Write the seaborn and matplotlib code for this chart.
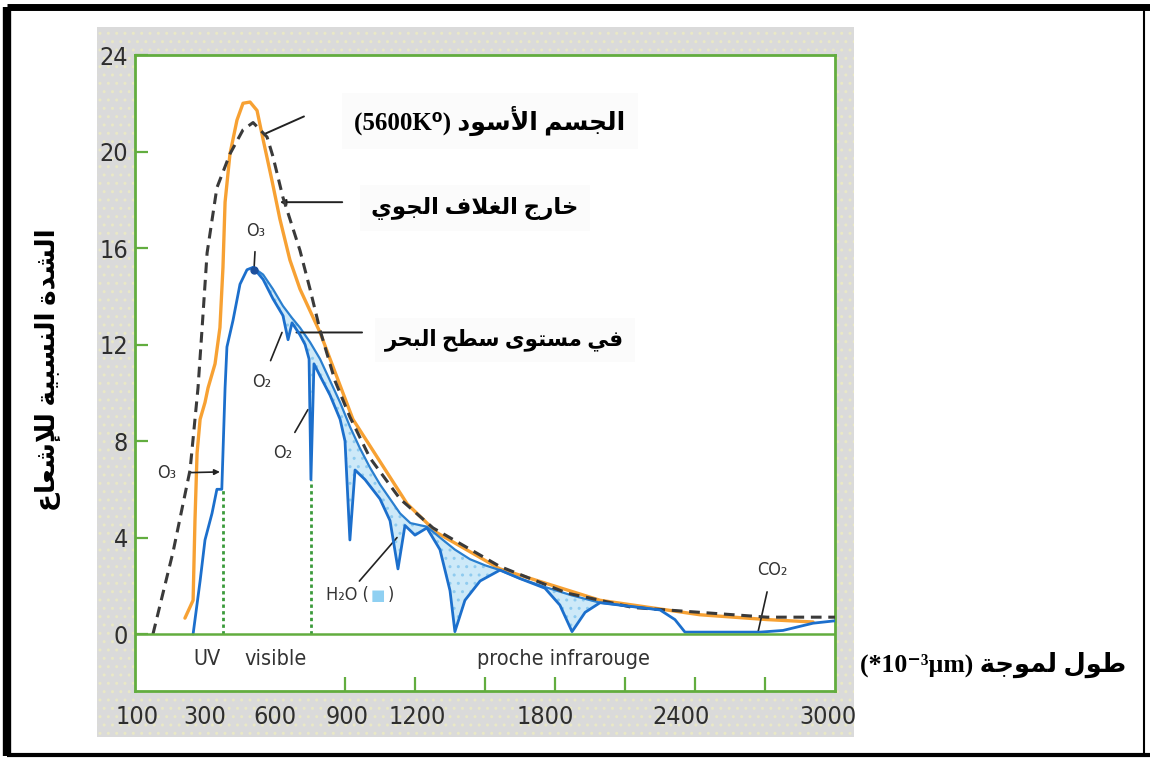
import numpy as np
import pandas as pd
import matplotlib
matplotlib.use("Agg")
import matplotlib.pyplot as plt
import seaborn as sns
from matplotlib.patches import Rectangle
from matplotlib.lines import Line2D

# ---------------- data (wavelength in nm, relative intensity) ----------------
bb_x = [77, 163, 236, 270, 287, 309, 351, 407, 463, 506, 566, 591, 634, 664, 707,
        750, 793, 857, 921, 1007, 1136, 1277, 1564, 1851, 2134, 2421, 2709, 3000]
bb_y = [0.0, 3.4, 6.8, 10.2, 12.6, 15.8, 18.5, 19.9, 20.9, 21.2, 20.6, 19.8, 18.1, 17.2, 15.9,
        14.3, 12.6, 10.5, 9.0, 7.3, 5.6, 4.4, 2.8, 1.7, 1.1, 0.9, 0.7, 0.7]

out_x = [214, 249, 257, 266, 279, 300, 313, 343, 364, 377, 386, 407, 437, 463, 493,
         523, 549, 587, 621, 664, 707, 793, 934, 1166, 1294, 1564, 1993, 2421, 2709, 2906]
out_y = [0.66, 1.4, 4.7, 7.5, 8.9, 9.6, 10.2, 11.2, 12.7, 15.2, 17.9, 19.9, 21.3, 22.0, 22.05,
         21.7, 20.5, 18.8, 17.2, 15.5, 14.3, 12.5, 8.9, 5.4, 4.2, 2.7, 1.4, 0.8, 0.6, 0.5]

sea_x = [249, 279, 300, 330, 351, 372, 377, 386, 394, 420, 450, 480, 506, 549, 591,
         634, 656, 673, 707, 729, 746, 754, 767, 793, 836, 879, 900, 921, 943, 986,
         1050, 1093, 1127, 1157, 1200, 1251, 1307, 1350, 1371, 1414, 1479, 1564, 1650,
         1757, 1821, 1873, 1929, 1993, 2121, 2250, 2314, 2357, 2679, 2777, 2906, 3000]
sea_y = [0.0, 2.2, 3.9, 5.0, 6.0, 6.0, 7.5, 10.2, 11.9, 13.0, 14.5, 15.1, 15.2, 14.7, 13.9,
         13.2, 12.2, 12.9, 12.4, 12.0, 11.4, 6.4, 11.2, 10.7, 9.9, 8.9, 8.0, 3.9, 6.8, 6.4,
         5.6, 4.7, 2.7, 4.5, 4.1, 4.4, 3.5, 1.8, 0.1, 1.4, 2.2, 2.65, 2.3,
         1.9, 1.2, 0.1, 0.9, 1.3, 1.15, 1.0, 0.6, 0.08, 0.08, 0.15, 0.45, 0.55]

env_x = [506, 549, 591, 634, 673, 707, 750, 793, 836, 879, 921, 964, 1007, 1050, 1093,
         1136, 1180, 1251, 1307, 1371, 1436, 1500, 1564, 1650, 1757, 1873, 1993, 2121, 2250]
env_y = [15.2, 14.9, 14.3, 13.6, 13.1, 12.7, 12.1, 11.4, 10.5, 9.6, 8.6, 7.7, 6.9, 6.2, 5.6,
         5.0, 4.6, 4.45, 4.0, 3.5, 3.1, 2.85, 2.65, 2.3, 1.95, 1.6, 1.3, 1.15, 1.0]

ytick_vals = [0, 4, 8, 12, 16, 20, 24]
xtick_marks = [300, 600, 900, 1200, 1500, 1800, 2100, 2400, 2700]
xtick_labels = ["100", "300", "600", "900", "1200", "1800", "2400", "3000"]
xtick_label_pos = [10, 300, 600, 910, 1210, 1760, 2340, 2970]

uv_limit = (377, 6.0)
o2_line = (754, 6.4)

# ---------------- Arabic shaping (presentation forms, visual order) ----------------
FORMS = {
    "\u0627": ("\uFE8D", "\uFE8E", None, None),
    "\u0623": ("\uFE83", "\uFE84", None, None),
    "\u0625": ("\uFE87", "\uFE88", None, None),
    "\u0628": ("\uFE8F", "\uFE90", "\uFE91", "\uFE92"),
    "\u0629": ("\uFE93", "\uFE94", None, None),
    "\u062A": ("\uFE95", "\uFE96", "\uFE97", "\uFE98"),
    "\u062C": ("\uFE9D", "\uFE9E", "\uFE9F", "\uFEA0"),
    "\u062D": ("\uFEA1", "\uFEA2", "\uFEA3", "\uFEA4"),
    "\u062E": ("\uFEA5", "\uFEA6", "\uFEA7", "\uFEA8"),
    "\u062F": ("\uFEA9", "\uFEAA", None, None),
    "\u0631": ("\uFEAD", "\uFEAE", None, None),
    "\u0633": ("\uFEB1", "\uFEB2", "\uFEB3", "\uFEB4"),
    "\u0634": ("\uFEB5", "\uFEB6", "\uFEB7", "\uFEB8"),
    "\u0637": ("\uFEC1", "\uFEC2", "\uFEC3", "\uFEC4"),
    "\u0639": ("\uFEC9", "\uFECA", "\uFECB", "\uFECC"),
    "\u063A": ("\uFECD", "\uFECE", "\uFECF", "\uFED0"),
    "\u0641": ("\uFED1", "\uFED2", "\uFED3", "\uFED4"),
    "\u0644": ("\uFEDD", "\uFEDE", "\uFEDF", "\uFEE0"),
    "\u0645": ("\uFEE1", "\uFEE2", "\uFEE3", "\uFEE4"),
    "\u0646": ("\uFEE5", "\uFEE6", "\uFEE7", "\uFEE8"),
    "\u0648": ("\uFEED", "\uFEEE", None, None),
    "\u0649": ("\uFEEF", "\uFEF0", None, None),
    "\u064A": ("\uFEF1", "\uFEF2", "\uFEF3", "\uFEF4"),
}
LAM_ALEF = {"\u0627": ("\uFEFB", "\uFEFC"), "\u0623": ("\uFEF7", "\uFEF8"),
            "\u0625": ("\uFEF9", "\uFEFA")}


def shape(text):
    toks, i = [], 0
    while i < len(text):
        c = text[i]
        if c == "\u0644" and i + 1 < len(text) and text[i + 1] in LAM_ALEF:
            toks.append(("LA", text[i + 1]))
            i += 2
        else:
            toks.append(c)
            i += 1

    def is_ar(t):
        return isinstance(t, tuple) or t in FORMS

    def joins_fwd(t):
        return (not isinstance(t, tuple)) and t in FORMS and FORMS[t][2] is not None

    out = []
    for k, t in enumerate(toks):
        prev = toks[k - 1] if k > 0 else None
        nxt = toks[k + 1] if k + 1 < len(toks) else None
        jp = prev is not None and joins_fwd(prev) and is_ar(t)
        if isinstance(t, tuple):
            out.append(LAM_ALEF[t[1]][1 if jp else 0])
            continue
        if t not in FORMS:
            out.append(t)
            continue
        iso, fin, ini, med = FORMS[t]
        jn = ini is not None and nxt is not None and is_ar(nxt)
        out.append(med if (jp and jn) else fin if jp else ini if jn else iso)
    return "".join(reversed(out))


lbl_bb = "(5600K\u2070) " + shape("الجسم الأسود")
lbl_out = shape("خارج الغلاف الجوي")
lbl_sea = shape("في مستوى سطح البحر")
lbl_y = shape("الشدة النسبية للإشعاع")
lbl_x = "(*10\u207B\u00B3\u00B5m) " + shape("طول لموجة")

# ---------------- style ----------------
sns.set_theme(style="white")
plt.rcParams["font.family"] = ["DejaVu Sans"]
plt.rcParams["hatch.linewidth"] = 1.0
NARROW = ["DejaVu Sans"]
NARROW_KW = dict(family=NARROW, fontstretch="condensed")
GREEN = "#62ad3f"
W, H = 1150, 758

fig = plt.figure(figsize=(W / 100, H / 100), dpi=100)
fig.patch.set_facecolor("white")


def fx(px):
    return px / W


def fy(py):
    return 1 - py / H


# grey dotted panel
fig.patches.append(Rectangle((fx(97), fy(737)), (854 - 97) / W, (737 - 27) / H,
                             transform=fig.transFigure, facecolor="#dadada",
                             edgecolor="#e9e8c6", hatch="..", lw=0, zorder=-5))
# black frame lines
for (x0, y0, x1, y1, lw) in [(7, 7, 1150, 7, 5), (7, 7, 7, 756, 6),
                             (7, 755, 1150, 755, 3), (1144, 7, 1144, 755, 1.5)]:
    fig.add_artist(Line2D([fx(x0), fx(x1)], [fy(y0), fy(y1)], transform=fig.transFigure,
                          color="black", lw=lw, solid_capstyle="butt"))

ax = fig.add_axes([fx(135), fy(691), 700 / W, (691 - 55) / H])
ax.set_facecolor("white")

# absorption shading
poly_x = list(env_x) + [x for x in sea_x if env_x[0] <= x <= env_x[-1]][::-1]
poly_y = list(env_y) + [y for x, y in zip(sea_x, sea_y) if env_x[0] <= x <= env_x[-1]][::-1]
ax.fill(poly_x, poly_y, facecolor="#cde9f8", edgecolor="#8fcbef", hatch="..", lw=0, zorder=1)

sns.lineplot(x=bb_x, y=bb_y, ax=ax, color="#3a3a3a", lw=2.2, linestyle=(0, (3.5, 2.2)),
             estimator=None, sort=False, zorder=4)
sns.lineplot(x=out_x, y=out_y, ax=ax, color="#f7a133", lw=2.4, estimator=None, sort=False, zorder=3)
sns.lineplot(x=env_x, y=env_y, ax=ax, color="#2a7fcf", lw=1.6, estimator=None, sort=False, zorder=3)
sns.lineplot(x=sea_x, y=sea_y, ax=ax, color="#1c6fcc", lw=2.0, estimator=None, sort=False, zorder=5)

# green dotted verticals
for (xv, yv) in [uv_limit, o2_line]:
    ax.plot([xv, xv], [0, yv], color="#3a9a3a", lw=2, linestyle=(0, (1.2, 1.2)), zorder=2)

ax.axhline(0, color=GREEN, lw=1.8, zorder=6)

ax.set_xlim(0, 3000)
ax.set_ylim(-2.36, 24)
for s in ax.spines.values():
    s.set_color(GREEN)
    s.set_linewidth(2)
    s.set_visible(True)

ax.set_yticks(ytick_vals)
ax.set_yticklabels([str(v) for v in ytick_vals], fontsize=18, color="#2e2e2e", **NARROW_KW)
ax.tick_params(axis="y", direction="in", length=9, width=1.6, color=GREEN, pad=5, left=True)
ax.set_xticks(xtick_marks, minor=True)
ax.set_xticks(xtick_label_pos)
ax.set_xticklabels(xtick_labels, fontsize=18, color="#2e2e2e", **NARROW_KW)
ax.tick_params(axis="x", which="minor", direction="in", length=10, width=1.6, color=GREEN, bottom=True)
ax.tick_params(axis="x", which="major", length=0, pad=10)
ax.set_xlabel("")
ax.set_ylabel("")

# region labels
for txt, xv in [("UV", 309), ("visible", 604), ("proche infrarouge", 1836)]:
    ax.text(xv, -1.05, txt, fontsize=15.5, color="#333333", ha="center", va="center", **NARROW_KW)

# molecule annotations
ann_kw = dict(fontsize=13, color="#333333", ha="center", va="center", **NARROW_KW)
ax.annotate("O\u2083", xy=(510, 15.1), xytext=(519, 16.7),
            arrowprops=dict(arrowstyle="-", color="#222", lw=1.2, shrinkA=6, shrinkB=0), **ann_kw)
ax.plot([510], [15.1], "o", color="#1c4f9c", ms=5, zorder=7)
ax.annotate("O\u2082", xy=(630, 12.5), xytext=(544, 10.45),
            arrowprops=dict(arrowstyle="-", color="#222", lw=1.2, shrinkA=7, shrinkB=0), **ann_kw)
ax.annotate("O\u2082", xy=(741, 9.3), xytext=(634, 7.5),
            arrowprops=dict(arrowstyle="-", color="#222", lw=1.2, shrinkA=7, shrinkB=0), **ann_kw)
ax.annotate("O\u2083", xy=(364, 6.72), xytext=(137, 6.67),
            arrowprops=dict(arrowstyle="-|>", mutation_scale=8, color="#222", lw=1.2,
                            shrinkA=8, shrinkB=0), **ann_kw)
h2o_kw = dict(ann_kw)
h2o_kw["ha"] = "right"
ax.annotate("H\u2082O (", xy=(1123, 4.0), xytext=(1000, 1.6),
            arrowprops=dict(arrowstyle="-", color="#222", lw=1.2, shrinkA=2, shrinkB=0), **h2o_kw)
ax.annotate("\u25A0", xy=(1000, 1.6), xytext=(7, 0), textcoords="offset points",
            fontsize=11, color="#8fd0f2", ha="center", va="center")
ax.annotate(")", xy=(1000, 1.6), xytext=(14, 0), textcoords="offset points",
            fontsize=13, color="#333333", ha="left", va="center", **NARROW_KW)
ax.annotate("CO\u2082", xy=(2670, 0.08), xytext=(2730, 2.65),
            arrowprops=dict(arrowstyle="-", color="#222", lw=1.2, shrinkA=7, shrinkB=0), **ann_kw)

# leader lines from the Arabic labels
ax.annotate("", xy=(549, 20.7), xytext=(735, 21.5),
            arrowprops=dict(arrowstyle="-", color="#222", lw=1.4))
ax.annotate("", xy=(609, 17.9), xytext=(900, 17.9),
            arrowprops=dict(arrowstyle="-|>", mutation_scale=8, color="#222", lw=1.4))
ax.annotate("", xy=(680, 12.5), xytext=(985, 12.5),
            arrowprops=dict(arrowstyle="-", color="#222", lw=1.4))

# Arabic labels
ar_font = ["Liberation Serif", "DejaVu Sans"]
box = dict(boxstyle="square,pad=0.5", facecolor="#fbfbfb", edgecolor="none")
fig.text(fx(490), fy(121), lbl_bb, family=ar_font, fontweight="bold", fontsize=18,
         ha="center", va="center", color="black", bbox=box)
fig.text(fx(475), fy(208), lbl_out, family=ar_font, fontweight="bold", fontsize=16.5,
         ha="center", va="center", color="black", bbox=box)
fig.text(fx(505), fy(340), lbl_sea, family=ar_font, fontweight="bold", fontsize=15.5,
         ha="center", va="center", color="black", bbox=box)
fig.text(fx(993), fy(665), lbl_x, family=ar_font, fontweight="bold", fontsize=18.5,
         ha="center", va="center", color="black")
fig.text(fx(48), fy(370), lbl_y, family=ar_font, fontweight="bold", fontsize=19,
         ha="center", va="center", rotation=90, color="black")

fig.savefig("out.png", dpi=100)
